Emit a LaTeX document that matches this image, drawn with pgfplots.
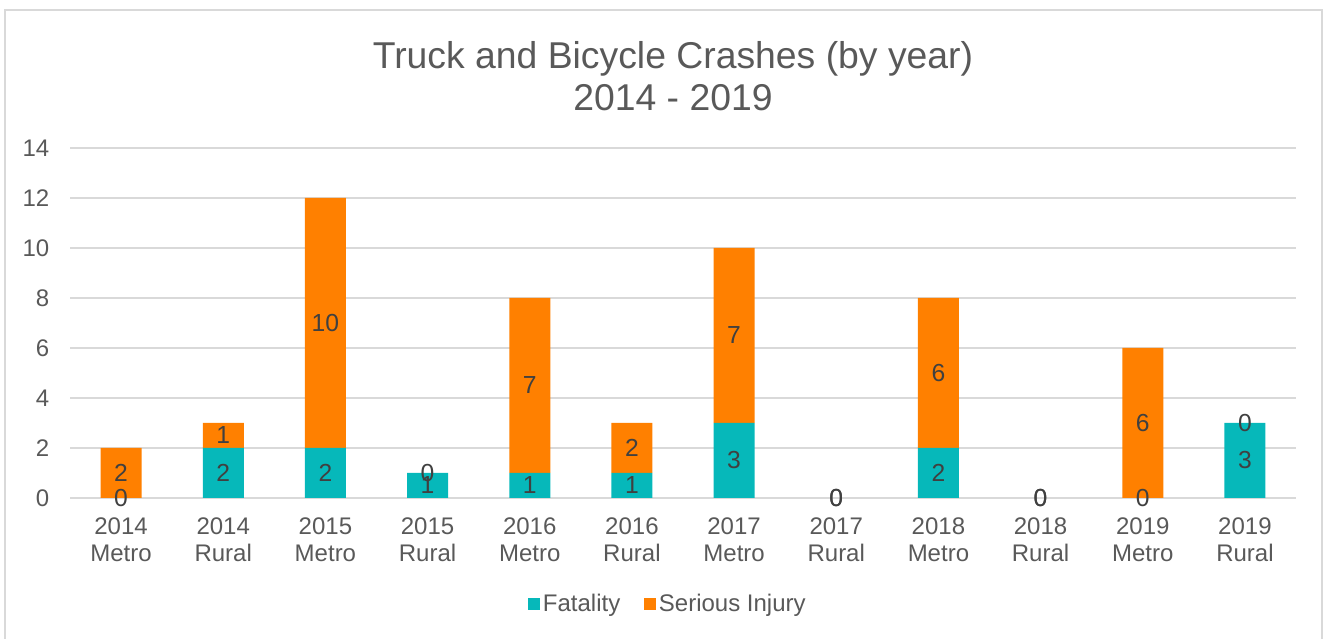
\documentclass[border=0pt]{standalone}
\usepackage{pgfplots}
\pgfplotsset{compat=1.18}
\usepackage{fontspec}
\setmainfont{Liberation Sans}
\definecolor{fat}{HTML}{06B8BA}
\definecolor{ser}{HTML}{FF8000}
\definecolor{txt}{HTML}{595959}
\definecolor{lbl}{HTML}{404040}
\definecolor{grd}{HTML}{D9D9D9}
\pgfplotsset{geom/.style={at={(52.5pt,105.75pt)}, anchor=south west,
  scale only axis, width=919.5pt, height=262.5pt,
  xmin=-0.5, xmax=11.5, ymin=0, ymax=14}}
\begin{document}
\begin{tikzpicture}
\useasboundingbox (0pt,0pt) rectangle (993.75pt,479.25pt);
\draw[grd,line width=1.1pt] (3.75pt,-10pt) -- (3.75pt,471.75pt) -- (991.5pt,471.75pt) -- (991.5pt,-10pt);
\node[txt,font=\fontsize{28}{32}\selectfont,align=center] at (504.75pt,422.25pt) {Truck and Bicycle Crashes (by year)\\2014 - 2019};
\begin{axis}[geom,
  ybar stacked, bar width=30.75pt,
  ytick={0,2,...,14},
  xtick={0,...,11},
  xticklabels={{2014\\Metro},{2014\\Rural},{2015\\Metro},{2015\\Rural},{2016\\Metro},{2016\\Rural},{2017\\Metro},{2017\\Rural},{2018\\Metro},{2018\\Rural},{2019\\Metro},{2019\\Rural}},
  xticklabel style={align=center,font=\fontsize{18}{20.5}\selectfont,text=txt,yshift=-11pt},
  yticklabel style={font=\fontsize{18}{20}\selectfont,text=txt,xshift=-12pt},
  /pgf/number format/assume math mode=true,
  axis line style={draw=none},
  major tick style={draw=none},
  ymajorgrids, major grid style={grd,line width=1.1pt},
  legend columns=2,
  legend style={draw=none, at={(0.488,-0.303)}, anchor=center, font=\fontsize{18}{20}\selectfont, text=txt, /tikz/every even column/.append style={column sep=16pt}},
  legend image code/.code={\fill[#1,draw=none] (0pt,-4.5pt) rectangle (9pt,4.5pt);},
]
\addplot[fill=fat,draw=none] coordinates {(0,0) (1,2) (2,2) (3,1) (4,1) (5,1) (6,3) (7,0) (8,2) (9,0) (10,0) (11,3)};
\addplot[fill=ser,draw=none] coordinates {(0,2) (1,1) (2,10) (3,0) (4,7) (5,2) (6,7) (7,0) (8,6) (9,0) (10,6) (11,0)};
\legend{Fatality,Serious Injury}
\end{axis}
\begin{axis}[geom, hide axis,
  nodes near coords, point meta=explicit symbolic,
  every node near coord/.append style={anchor=center, inner sep=0pt, font=\fontsize{18.5}{20}\selectfont, text=lbl}]
\addplot[only marks, mark=none, draw=none] coordinates {(0,0)[0] (1,1)[2] (2,1)[2] (3,0.5)[1] (4,0.5)[1] (5,0.5)[1] (6,1.5)[3] (7,0)[0] (8,1)[2] (9,0)[0] (10,0)[0] (11,1.5)[3]};
\addplot[only marks, mark=none, draw=none] coordinates {(0,1)[2] (1,2.5)[1] (2,7)[10] (3,1)[0] (4,4.5)[7] (5,2)[2] (6,6.5)[7] (7,0)[0] (8,5)[6] (9,0)[0] (10,3)[6] (11,3)[0]};
\end{axis}
\end{tikzpicture}
\end{document}
